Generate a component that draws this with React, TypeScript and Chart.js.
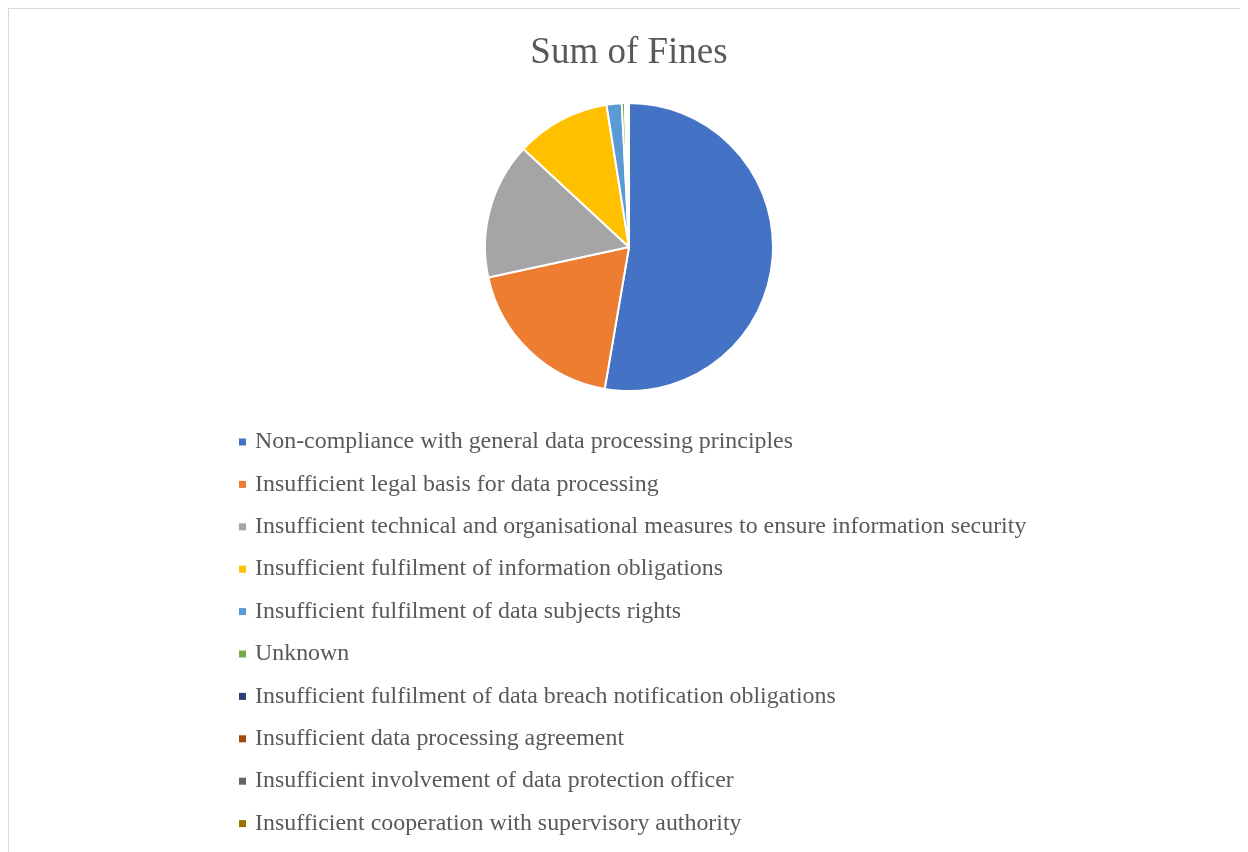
import React, { useEffect, useRef } from "react";
import { Chart, registerables } from "chart.js";

Chart.register(...registerables);

const categories: string[] = [
  "Non-compliance with general data processing principles",
  "Insufficient legal basis for data processing",
  "Insufficient technical and organisational measures to ensure information security",
  "Insufficient fulfilment of information obligations",
  "Insufficient fulfilment of data subjects rights",
  "Unknown",
  "Insufficient fulfilment of data breach notification obligations",
  "Insufficient data processing agreement",
  "Insufficient involvement of data protection officer",
  "Insufficient cooperation with supervisory authority",
];

// Sum of fines (share)
const fines: number[] = [52.7, 18.9, 15.3, 10.6, 1.7, 0.35, 0.2, 0.12, 0.08, 0.05];

const colors: string[] = [
  "#4472C4",
  "#ED7D31",
  "#A5A5A5",
  "#FFC000",
  "#5B9BD5",
  "#70AD47",
  "#264478",
  "#9E480E",
  "#636363",
  "#997300",
];

const titleText = "Sum of Fines";
const FONT = "'Liberation Serif', 'Times New Roman', serif";
const TEXT_COLOR = "#595959";

const listLegend = {
  id: "listLegend",
  afterDraw(chart: any) {
    const ctx = chart.ctx as CanvasRenderingContext2D;
    const area = chart.chartArea;
    const labels: string[] = chart.data.labels;
    const bg: string[] = chart.data.datasets[0].backgroundColor;
    const rowH = 42.4;
    const top = area.bottom + 50;
    const left = 230;
    ctx.save();
    ctx.font = `23.9px ${FONT}`;
    ctx.textBaseline = "middle";
    ctx.textAlign = "left";
    labels.forEach((lab, i) => {
      const y = top + i * rowH;
      ctx.fillStyle = bg[i];
      ctx.fillRect(left, y - 3.5, 7, 7);
      ctx.fillStyle = TEXT_COLOR;
      ctx.fillText(lab, left + 16, y);
    });
    ctx.restore();
  },
};

export default function App() {
  const ref = useRef<HTMLCanvasElement | null>(null);
  useEffect(() => {
    if (!ref.current) return;
    const chart = new Chart(ref.current, {
      type: "pie",
      data: {
        labels: categories,
        datasets: [
          {
            data: fines,
            backgroundColor: colors,
            borderColor: "#ffffff",
            borderWidth: 2,
          },
        ],
      },
      options: {
        responsive: false,
        animation: false,
        layout: { padding: { top: 0, bottom: 467, left: 0, right: 0 } },
        plugins: {
          legend: { display: false },
          tooltip: { enabled: false },
          title: {
            display: true,
            text: titleText,
            color: TEXT_COLOR,
            font: { family: FONT, size: 37, weight: "normal" },
            padding: { top: 22, bottom: 26.6 },
          },
        },
      },
      plugins: [listLegend],
    });
    return () => chart.destroy();
  }, []);
  return (
    <div style={{ width: 1240, height: 844, overflow: "hidden" }}>
      <div
        style={{
          border: "1px solid #d9d9d9",
          width: 1260,
          height: 870,
          background: "#ffffff",
        }}
      >
        <canvas ref={ref} width={1240} height={850} style={{ display: "block" }} />
      </div>
    </div>
  );
}
